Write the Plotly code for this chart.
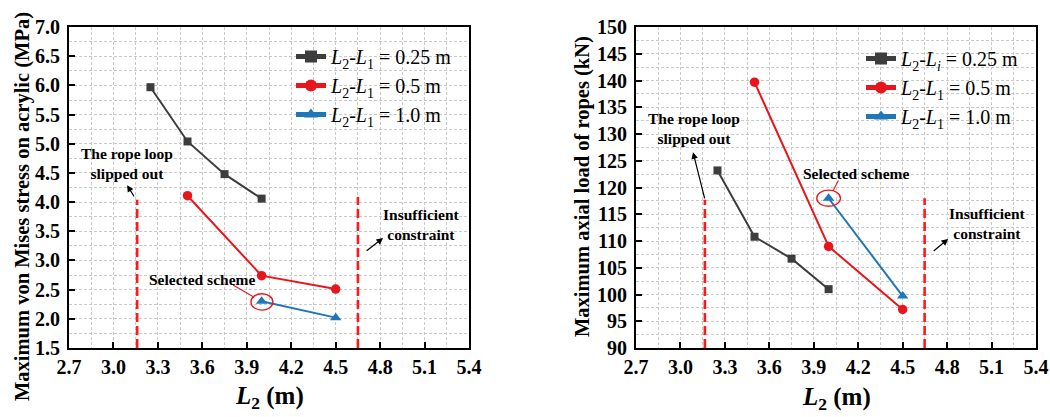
import plotly.graph_objects as go

# ---------------- data ----------------
L2_a = [3.25, 3.5, 3.75, 4.0]
L2_b = [3.5, 4.0, 4.5]
L2_c = [4.0, 4.5]

stress_025 = [5.97, 5.04, 4.48, 4.06]
stress_05 = [4.11, 2.74, 2.51]
stress_10 = [2.30, 2.02]

load_025 = [123.2, 110.8, 106.7, 101.0]
load_05 = [139.7, 109.0, 97.2]
load_10 = [118.0, 99.7]

bound_x_left = [3.16, 4.65]
bound_top_left = [4.04, 4.09]
bound_x_right = [3.165, 4.648]
bound_top_right = [117.7, 118.0]

x_ticks = [2.7, 3.0, 3.3, 3.6, 3.9, 4.2, 4.5, 4.8, 5.1, 5.4]
y_ticks_left = [1.5, 2.0, 2.5, 3.0, 3.5, 4.0, 4.5, 5.0, 5.5, 6.0, 6.5, 7.0]
y_ticks_right = [90, 95, 100, 105, 110, 115, 120, 125, 130, 135, 140, 145, 150]

names_left = ["<i>L</i><sub>2</sub>-<i>L</i><sub>1</sub> = 0.25 m",
              "<i>L</i><sub>2</sub>-<i>L</i><sub>1</sub> = 0.5 m",
              "<i>L</i><sub>2</sub>-<i>L</i><sub>1</sub> = 1.0 m"]
names_right = ["<i>L</i><sub>2</sub>-<i>L<sub>i</sub></i> = 0.25 m",
               "<i>L</i><sub>2</sub>-<i>L</i><sub>1</sub> = 0.5 m",
               "<i>L</i><sub>2</sub>-<i>L</i><sub>1</sub> = 1.0 m"]

# ---------------- style ----------------
FONT = "Liberation Serif"
C_BLACK = "#3d3d3d"
C_RED = "#e8161c"
C_BLUE = "#1f77b8"
GRID = "#c9c9c9"

fig = go.Figure()

series_specs = [
    (L2_a, stress_025, load_025, C_BLACK, "square", 8),
    (L2_b, stress_05, load_05, C_RED, "circle", 9.5),
    (L2_c, stress_10, load_10, C_BLUE, "triangle-up", 10),
]

for i, (xs, ys_l, ys_r, col, sym, sz) in enumerate(series_specs):
    fig.add_trace(go.Scatter(x=xs, y=ys_l, mode="lines+markers", name=names_left[i],
                             line=dict(color=col, width=2),
                             marker=dict(symbol=sym, size=sz, color=col),
                             xaxis="x", yaxis="y", legend="legend"))
for i, (xs, ys_l, ys_r, col, sym, sz) in enumerate(series_specs):
    fig.add_trace(go.Scatter(x=xs, y=ys_r, mode="lines+markers", name=names_right[i],
                             line=dict(color=col, width=2),
                             marker=dict(symbol=sym, size=sz, color=col),
                             xaxis="x2", yaxis="y2", legend="legend2"))

# vertical boundary lines
for bx, bt in zip(bound_x_left, bound_top_left):
    fig.add_trace(go.Scatter(x=[bx, bx], y=[y_ticks_left[0], bt], mode="lines", showlegend=False,
                             line=dict(color="#ff1a1a", width=2.6, dash="9px,4px"),
                             xaxis="x", yaxis="y", hoverinfo="skip"))
for bx, bt in zip(bound_x_right, bound_top_right):
    fig.add_trace(go.Scatter(x=[bx, bx], y=[y_ticks_right[0], bt], mode="lines", showlegend=False,
                             line=dict(color="#ff1a1a", width=2.6, dash="9px,4px"),
                             xaxis="x2", yaxis="y2", hoverinfo="skip"))

tickfont = dict(family=FONT, size=20, color="black", weight="bold")

def xaxis_cfg(domain, anchor):
    return dict(domain=domain, anchor=anchor, range=[x_ticks[0], x_ticks[-1]], tickvals=x_ticks,
                ticktext=[f"{v:.1f}" for v in x_ticks],
                showline=True, mirror=True, linewidth=2, linecolor="black",
                ticks="inside", ticklen=6, tickwidth=2, tickcolor="black",
                tickfont=tickfont, showgrid=True, gridcolor=GRID, gridwidth=1,
                griddash="3px,2px", zeroline=False, automargin=False,
                minor=dict(dtick=0.15, tick0=x_ticks[0], showgrid=True, gridcolor=GRID,
                           griddash="3px,2px", gridwidth=1, ticks=""))

def yaxis_cfg(anchor, ticks_list, labels):
    step = ticks_list[1] - ticks_list[0]
    return dict(domain=[0.1655, 0.935], anchor=anchor, range=[ticks_list[0], ticks_list[-1]],
                tickvals=ticks_list, ticktext=labels,
                showline=True, mirror=True, linewidth=2, linecolor="black",
                ticks="inside", ticklen=6, tickwidth=2, tickcolor="black",
                tickfont=tickfont, showgrid=True, gridcolor=GRID, gridwidth=1,
                griddash="3px,2px", zeroline=False, automargin=False, ticklabelstandoff=3,
                minor=dict(dtick=step / 2, tick0=ticks_list[0], showgrid=True, gridcolor=GRID,
                           griddash="3px,2px", gridwidth=1, ticks=""))

legend_common = dict(font=dict(family=FONT, size=20, color="black"),
                     bgcolor="rgba(0,0,0,0)", borderwidth=0, xanchor="left",
                     yanchor="top", tracegroupgap=0, itemsizing="constant")

fig.update_layout(
    width=1050, height=417,
    margin=dict(l=0, r=0, t=0, b=0),
    paper_bgcolor="white", plot_bgcolor="white",
    xaxis=xaxis_cfg([0.0657, 0.4467], "y"),
    yaxis=yaxis_cfg("x", y_ticks_left, [f"{v:.1f}" for v in y_ticks_left]),
    xaxis2=xaxis_cfg([0.6057, 0.9867], "y2"),
    yaxis2=yaxis_cfg("x2", y_ticks_right, [f"{v:d}" for v in y_ticks_right]),
    legend=dict(x=291 / 1050, y=1 - 37 / 417, **legend_common),
    legend2=dict(x=861 / 1050, y=1 - 39 / 417, **legend_common),
    showlegend=True,
)

ann_font = dict(family=FONT, size=15.5, color="black", weight="bold")
annotations = []

def text_ann(x, y, text, xref, yref, size=15.5):
    f = dict(ann_font)
    f["size"] = size
    annotations.append(dict(x=x, y=y, xref=xref, yref=yref, text=text,
                            showarrow=False, font=f, align="center",
                            xanchor="center", yanchor="middle"))

def arrow_ann(xh, yh, xt, yt, xref, yref):
    annotations.append(dict(x=xh, y=yh, ax=xt, ay=yt, xref=xref, yref=yref,
                            axref=xref, ayref=yref, text="", showarrow=True,
                            arrowhead=2, arrowsize=1.1, arrowwidth=1.2, arrowcolor="black"))

# left panel
text_ann(3.092, 4.67, "The rope loop<br>slipped out", "x", "y")
arrow_ann(3.092, 4.29, 3.146, 4.07, "x", "y")
text_ann(5.077, 3.62, "Insufficient<br>constraint", "x", "y")
arrow_ann(4.82, 3.385, 4.699, 3.145, "x", "y")
text_ann(3.598, 2.68, "Selected scheme", "x", "y")

# right panel
text_ann(3.092, 131.1, "The rope loop<br>slipped out", "x2", "y2")
arrow_ann(3.085, 126.6, 3.166, 117.7, "x2", "y2")
text_ann(5.07, 113.2, "Insufficient<br>constraint", "x2", "y2")
arrow_ann(4.807, 110.4, 4.699, 107.9, "x2", "y2")
text_ann(4.186, 122.7, "Selected scheme", "x2", "y2")

# axis titles
title_font = dict(family=FONT, size=20.5, color="black", weight="bold")
annotations.append(dict(x=22 / 1050, y=1 - 207 / 417, xref="paper", yref="paper",
                        text="Maximum von Mises stress on acrylic (MPa)", textangle=-90,
                        showarrow=False, font=title_font, xanchor="center", yanchor="middle"))
annotations.append(dict(x=582 / 1050, y=1 - 187 / 417, xref="paper", yref="paper",
                        text="Maximum axial load of ropes (kN)", textangle=-90,
                        showarrow=False, font=title_font, xanchor="center", yanchor="middle"))
xt_font = dict(family=FONT, size=25, color="black", weight="bold")
annotations.append(dict(x=269 / 1050, y=1 - 397 / 417, xref="paper", yref="paper",
                        text="<i>L</i><sub>2</sub> (m)", showarrow=False, font=xt_font,
                        xanchor="center", yanchor="middle"))
annotations.append(dict(x=836 / 1050, y=1 - 398 / 417, xref="paper", yref="paper",
                        text="<i>L</i><sub>2</sub> (m)", showarrow=False, font=xt_font,
                        xanchor="center", yanchor="middle"))

fig.update_layout(annotations=annotations)

# selected scheme markers: ellipse + leader line
sel_left = (L2_c[0], stress_10[0])
sel_right = (L2_c[0], load_10[0])
shapes = [
    dict(type="circle", xref="x", yref="y", x0=sel_left[0] - 0.072, x1=sel_left[0] + 0.076,
         y0=sel_left[1] - 0.15, y1=sel_left[1] + 0.13, line=dict(color=C_RED, width=1.3)),
    dict(type="line", xref="x", yref="y", x0=3.807, y0=2.579, x1=3.95, y1=2.37,
         line=dict(color=C_RED, width=1.1)),
    dict(type="circle", xref="x2", yref="y2", x0=sel_right[0] - 0.08, x1=sel_right[0] + 0.08,
         y0=sel_right[1] - 1.5, y1=sel_right[1] + 1.5, line=dict(color=C_RED, width=1.3)),
    dict(type="line", xref="x2", yref="y2", x0=4.066, y0=121.3, x1=4.03, y1=119.4,
         line=dict(color=C_RED, width=1.1)),
]
fig.update_layout(shapes=shapes)

fig.write_html("out.html")
